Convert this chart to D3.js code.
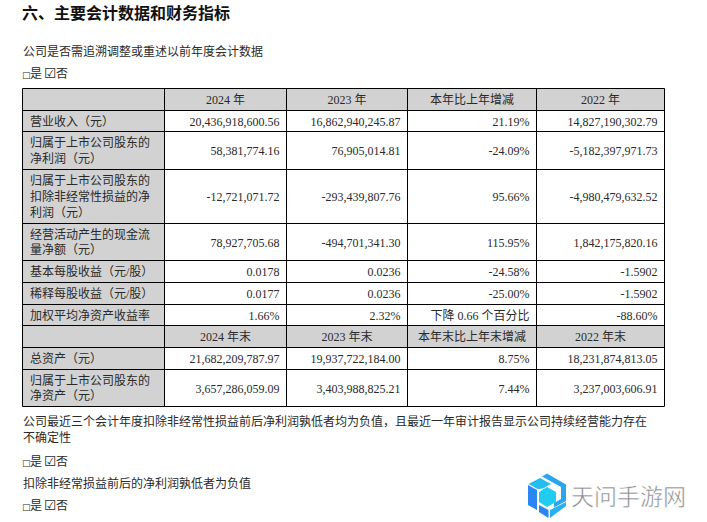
<!DOCTYPE html>
<html>
<head>
<meta charset="utf-8">
<script src="https://cdn.jsdelivr.net/npm/d3@7"></script>
<style>
html,body{margin:0;padding:0;background:#fff;}
text{font-family:"Liberation Serif","Noto Sans CJK SC",serif;fill:#2a2a2a;font-size:12px;}
</style>
</head>
<body>
<div id="app"></div>
<script>
const title = '六、主要会计数据和财务指标'
const header1 = ['', '2024 年', '2023 年', '本年比上年增减', '2022 年']
const header2 = ['', '2024 年末', '2023 年末', '本年末比上年末增减', '2022 年末']
const rowLabels = [
    ['营业收入（元）'],
    ['归属于上市公司股东的', '净利润（元）'],
    ['归属于上市公司股东的', '扣除非经常性损益的净', '利润（元）'],
    ['经营活动产生的现金流', '量净额（元）'],
    ['基本每股收益（元/股）'],
    ['稀释每股收益（元/股）'],
    ['加权平均净资产收益率'],
]
const rowLabels2 = [
    ['总资产（元）'],
    ['归属于上市公司股东的', '净资产（元）'],
]
const values2024 = ['20,436,918,600.56', '58,381,774.16', '-12,721,071.72', '78,927,705.68', '0.0178', '0.0177', '1.66%']
const values2023 = ['16,862,940,245.87', '76,905,014.81', '-293,439,807.76', '-494,701,341.30', '0.0236', '0.0236', '2.32%']
const changes = ['21.19%', '-24.09%', '95.66%', '115.95%', '-24.58%', '-25.00%', '下降 0.66 个百分比']
const values2022 = ['14,827,190,302.79', '-5,182,397,971.73', '-4,980,479,632.52', '1,842,175,820.16', '-1.5902', '-1.5902', '-88.60%']
const values2024End = ['21,682,209,787.97', '3,657,286,059.09']
const values2023End = ['19,937,722,184.00', '3,403,988,825.21']
const changesEnd = ['8.75%', '7.44%']
const values2022End = ['18,231,874,813.05', '3,237,003,606.91']

// table grid
const colEdges = [22.5, 164.5, 286.5, 407.5, 536.5, 664.5]
const rowEdges = [88.5, 110.5, 131.5, 169.5, 223.5, 260.5, 282.5, 304.5, 325.5, 347.5, 369.5, 406.5]

const svg = d3.select('#app').append('svg')
    .attr('width', 707).attr('height', 522)
    .style('display', 'block')

// rows in table order, header rows get kind 'head'
const rows = [{kind: 'head', cells: header1}]
rowLabels.forEach((l, i) => rows.push({kind: 'body', label: l, cells: [values2024[i], values2023[i], changes[i], values2022[i]]}))
rows.push({kind: 'head', cells: header2})
rowLabels2.forEach((l, i) => rows.push({kind: 'body', label: l, cells: [values2024End[i], values2023End[i], changesEnd[i], values2022End[i]]}))

// grey fills
rows.forEach((r, i) => {
    const x2 = r.kind == 'head' ? colEdges[5] : colEdges[1]
    svg.append('rect')
        .attr('x', colEdges[0]).attr('y', rowEdges[i])
        .attr('width', x2 - colEdges[0]).attr('height', rowEdges[i + 1] - rowEdges[i])
        .attr('fill', '#d2d2d2')
})

// grid lines
svg.selectAll('.h').data(rowEdges).join('line').attr('class', 'h')
    .attr('x1', colEdges[0]).attr('x2', colEdges[5]).attr('y1', d => d).attr('y2', d => d)
    .attr('stroke', '#000').attr('stroke-width', 1)
svg.selectAll('.v').data(colEdges).join('line').attr('class', 'v')
    .attr('y1', rowEdges[0]).attr('y2', rowEdges[11]).attr('x1', d => d).attr('x2', d => d)
    .attr('stroke', '#000').attr('stroke-width', 1)

// cell text
rows.forEach((r, i) => {
    const mid = (rowEdges[i] + rowEdges[i + 1]) / 2
    if(r.kind == 'head'){
        r.cells.forEach((t, c) => {
            if(!t) return
            svg.append('text').text(t)
                .attr('x', (colEdges[c] + colEdges[c + 1]) / 2).attr('y', mid + 4.5)
                .attr('text-anchor', 'middle')
        })
    }else{
        r.label.forEach((t, k) => {
            svg.append('text').text(t)
                .attr('x', 30).attr('y', mid + 4.5 + (k - (r.label.length - 1) / 2) * 15.8)
        })
        r.cells.forEach((t, c) => {
            svg.append('text').text(t)
                .attr('x', colEdges[c + 2] - 7).attr('y', mid + 4.5)
                .attr('text-anchor', 'end')
        })
    }
})

// paragraphs around the table
svg.append('text').text(title).attr('x', 22).attr('y', 19)
    .style('font-size', '16px').style('font-weight', 700).style('fill', '#111')

const paragraphs = [
    ['公司是否需追溯调整或重述以前年度会计数据', 56],
    ['公司最近三个会计年度扣除非经常性损益前后净利润孰低者均为负值，且最近一年审计报告显示公司持续经营能力存在', 426],
    ['不确定性', 442],
    ['扣除非经常损益前后的净利润孰低者为负值', 488],
]
paragraphs.forEach(p => {
    svg.append('text').text(p[0]).attr('x', 23).attr('y', p[1])
})

// yes / no tick lines
const checkRows = [78, 466, 510]
checkRows.forEach(y => {
    svg.append('text').text('□').attr('x', 22).attr('y', y)
        .style('font-size', '9px').style('font-family', 'DejaVu Sans')
    svg.append('text').text('是').attr('x', 30).attr('y', y)
    svg.append('text').text('☑').attr('x', 44).attr('y', y)
        .style('font-size', '14px').style('font-family', 'DejaVu Sans')
    svg.append('text').text('否').attr('x', 56).attr('y', y)
})

// watermark
const logoFaces = [
    ['#2aa5ee', 'M547 473.5 L566 484.5 L566 501 L554 507.5 L554 503 L561 499 L561 487 L542 476.5 Z'],
    ['#2a86f5', 'M528 485 L537 490 L537 510 L528 505 Z'],
    ['#25bdf0', 'M528.5 484 L540 478 L551 484 L543 488.5 L537.5 489 Z'],
    ['#2a86f5', 'M539 505 L548.5 510 L548.5 518 L539 512 Z'],
    ['#2ab0ee', 'M550 510 L566 502 L566 506 L550 518 Z'],
    ['#20cdf0', 'M547 487 L556 492 L556 502 L547 507 L539 502 L539 492 Z'],
]
svg.selectAll('.logo').data(logoFaces).join('path').attr('class', 'logo')
    .attr('d', d => d[1]).attr('fill', d => d[0])

svg.append('text').text('天问手游网').attr('x', 571).attr('y', 505)
    .style('font-size', '23px')
    .style('font-family', '"Noto Sans CJK SC"').style('fill', '#8a8a8a')
    .style('stroke', '#fff').style('stroke-width', 0.5)
</script>
</body>
</html>
